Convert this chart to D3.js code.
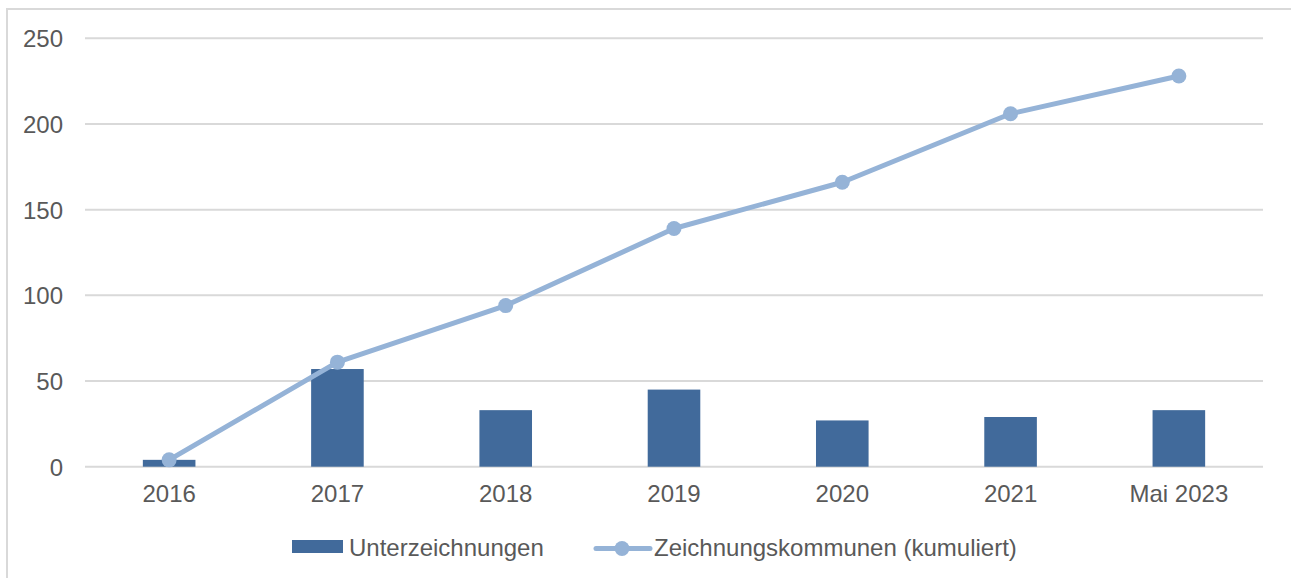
<!DOCTYPE html>
<html>
<head>
<meta charset="utf-8">
<script src="https://cdn.jsdelivr.net/npm/d3@7"></script>
<style>
html, body { margin: 0; padding: 0; background: #fff; }
svg { display: block; font-family: "Liberation Sans", Arial, sans-serif; }
</style>
</head>
<body>
<svg id="chart" width="1291" height="578"></svg>
<script>
const categories = ["2016", "2017", "2018", "2019", "2020", "2021", "Mai 2023"];
const unterzeichnungen = [4, 57, 33, 45, 27, 29, 33];
const kumuliert = [4, 61, 94, 139, 166, 206, 228];
const yTicks = [0, 50, 100, 150, 200, 250];
const seriesNames = ["Unterzeichnungen", "Zeichnungskommunen (kumuliert)"];

const W = 1291, H = 578;
const svg = d3.select("#chart");
const textColor = "#595959";
const barColor = "#416A9B";
const lineColor = "#95B3D7";
const gridColor = "#D9D9D9";

// outer frame
svg.append("path")
  .attr("d", `M7,${H} L7,9 L${W},9`)
  .attr("fill", "none").attr("stroke", gridColor).attr("stroke-width", 2);

const x = d3.scaleBand().domain(categories).range([85, 1263]).padding(0);
const y = d3.scaleLinear().domain([0, 250]).range([466.7, 38.3]);

// gridlines
svg.append("g").selectAll("line").data(yTicks).join("line")
  .attr("x1", 85).attr("x2", 1263)
  .attr("y1", d => y(d)).attr("y2", d => y(d))
  .attr("stroke", gridColor).attr("stroke-width", 2);

// y axis labels
const yAxis = d3.axisLeft(y).tickValues(yTicks).tickSize(0).tickPadding(0);
const gy = svg.append("g").attr("transform", "translate(63,0)").call(yAxis);
gy.select(".domain").remove();
gy.selectAll("text").attr("fill", textColor).attr("font-size", 24)
  .attr("font-family", "Liberation Sans, Arial, sans-serif").attr("dy", "0.35em");

// x axis labels
const xAxis = d3.axisBottom(x).tickSize(0).tickPadding(0);
const gx = svg.append("g").attr("transform", "translate(0,484.5)").call(xAxis);
gx.select(".domain").remove();
gx.selectAll("text").attr("fill", textColor).attr("font-size", 24)
  .attr("font-family", "Liberation Sans, Arial, sans-serif").attr("dy", "0.71em");

// bars
const bw = x.bandwidth() * 0.3125;
svg.append("g").selectAll("rect").data(categories).join("rect")
  .attr("x", (d) => x(d) + x.bandwidth() / 2 - bw / 2)
  .attr("width", bw)
  .attr("y", (d, i) => y(unterzeichnungen[i]))
  .attr("height", (d, i) => y(0) - y(unterzeichnungen[i]))
  .attr("fill", barColor);

// line
const line = d3.line()
  .x((d, i) => x(categories[i]) + x.bandwidth() / 2)
  .y(d => y(d));
svg.append("path").datum(kumuliert)
  .attr("d", line).attr("fill", "none")
  .attr("stroke", lineColor).attr("stroke-width", 5)
  .attr("stroke-linejoin", "round").attr("stroke-linecap", "round");
svg.append("g").selectAll("circle").data(kumuliert).join("circle")
  .attr("cx", (d, i) => x(categories[i]) + x.bandwidth() / 2)
  .attr("cy", d => y(d))
  .attr("r", 7.5)
  .attr("fill", lineColor);

// legend
const lg = svg.append("g");
lg.append("rect").attr("x", 292).attr("y", 540).attr("width", 51).attr("height", 13).attr("fill", barColor);
lg.append("text").attr("x", 349).attr("y", 556).attr("font-size", 24).attr("fill", textColor).text(seriesNames[0]);
lg.append("line").attr("x1", 596).attr("x2", 650).attr("y1", 548.5).attr("y2", 548.5)
  .attr("stroke", lineColor).attr("stroke-width", 5).attr("stroke-linecap", "round");
lg.append("circle").attr("cx", 622).attr("cy", 548.5).attr("r", 7.5).attr("fill", lineColor);
lg.append("text").attr("x", 654).attr("y", 556).attr("font-size", 24).attr("fill", textColor).text(seriesNames[1]);
</script>
</body>
</html>
